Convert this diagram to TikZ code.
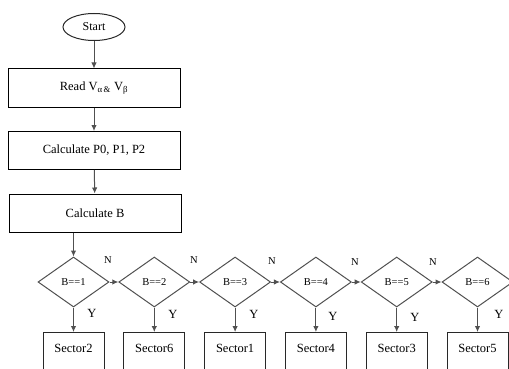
\documentclass[tikz,border=0pt]{standalone}
\usepackage{fontspec}
\setmainfont{Liberation Serif}
\usetikzlibrary{positioning, arrows.meta, shapes.geometric}
\definecolor{fcline}{RGB}{40, 40, 40}
\definecolor{fcedge}{RGB}{80, 80, 80}
\tikzset{
    fcstart/.style={ellipse, draw=fcline, line width=1pt, minimum width=62pt, minimum height=27pt, inner sep=0pt, font=\fontsize{12}{14}\selectfont},
    fcproc/.style={rectangle, draw=black, line width=1pt, minimum width=172pt, minimum height=38pt, inner sep=0pt, font=\fontsize{12.5}{15}\selectfont},
    fcdec/.style={diamond, draw=fcedge, line width=1pt, minimum width=71pt, minimum height=50pt, aspect=1.42, inner sep=0pt, font=\fontsize{10.5}{12}\selectfont},
    fcsec/.style={rectangle, draw=fcline, line width=1pt, minimum width=61pt, inner sep=0pt, text height=20pt, text depth=30pt, anchor=north, font=\fontsize{12.5}{15}\selectfont},
    fcarrow/.style={draw=fcedge, line width=1pt, -{Latex[length=6pt, width=5.5pt]}},
    nlbl/.style={font=\fontsize{10.5}{12}\selectfont},
    ylbl/.style={font=\fontsize{12.5}{14}\selectfont}
}

\begin{document}
\begin{tikzpicture}[x=1pt, y=-1pt]
    \clip (0,0) rectangle (509,369);
    \node[fcstart] (start) at (94,27) {Start};
    \node[fcproc] (read) at (94,88) {Read V\textsubscript{α\,\&} V\textsubscript{β}};
    \node[fcproc] (calcp) at (94,150.5) {Calculate P0, P1, P2};
    \node[fcproc] (calcb) at (95,213) {Calculate B};

    % decisions on B
    \node[fcdec] (b1) at (73.5,282) {B==1};
    \node[fcdec] (b2) at (154.3,282) {B==2};
    \node[fcdec] (b3) at (235.1,282) {B==3};
    \node[fcdec] (b4) at (315.9,282) {B==4};
    \node[fcdec] (b5) at (396.7,282) {B==5};
    \node[fcdec] (b6) at (477.5,282) {B==6};

    % sector boxes
    \node[fcsec] (s2) at (73.5,332) {Sector2};
    \node[fcsec] (s6) at (154.3,332) {Sector6};
    \node[fcsec] (s1) at (235.1,332) {Sector1};
    \node[fcsec] (s4) at (315.9,332) {Sector4};
    \node[fcsec] (s3) at (396.7,332) {Sector3};
    \node[fcsec] (s5) at (477.5,332) {Sector5};

    \draw[fcarrow] (start) -- (read);
    \draw[fcarrow] (read) -- (calcp);
    \draw[fcarrow] (calcp) -- (calcb);
    \draw[fcarrow] (calcb.south -| b1.north) -- (b1.north);

    \draw[fcarrow] (b1.east) -- (b2.west);
    \draw[fcarrow] (b2.east) -- (b3.west);
    \draw[fcarrow] (b3.east) -- (b4.west);
    \draw[fcarrow] (b4.east) -- (b5.west);
    \draw[fcarrow] (b5.east) -- (b6.west);

    \draw[fcarrow] (b1.south) -- (s2.north);
    \draw[fcarrow] (b2.south) -- (s6.north);
    \draw[fcarrow] (b3.south) -- (s1.north);
    \draw[fcarrow] (b4.south) -- (s4.north);
    \draw[fcarrow] (b5.south) -- (s3.north);
    \draw[fcarrow] (b6.south) -- (s5.north);

    % N labels
    \node[nlbl] (n1) at (108,260) {N};
    \node[nlbl] (n2) at (194,260) {N};
    \node[nlbl] (n3) at (272,261) {N};
    \node[nlbl] (n4) at (355,262) {N};
    \node[nlbl] (n5) at (433,262) {N};

    % Y labels
    \node[ylbl] (y1) at (92,313) {Y};
    \node[ylbl] (y2) at (173,314) {Y};
    \node[ylbl] (y3) at (254,314) {Y};
    \node[ylbl] (y4) at (333,316) {Y};
    \node[ylbl] (y5) at (415,317) {Y};
    \node[ylbl] (y6) at (499,314) {Y};
\end{tikzpicture}
\end{document}
